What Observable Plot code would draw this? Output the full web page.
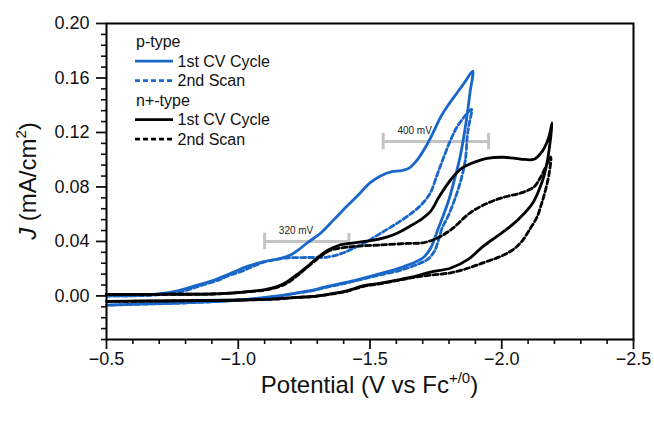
<!DOCTYPE html>
<html><head><meta charset="utf-8">
<script src="https://cdn.jsdelivr.net/npm/d3@7"></script>
<script src="https://cdn.jsdelivr.net/npm/@observablehq/plot@0.6"></script>
<style>body{margin:0;background:#fff}</style>
</head><body><div id="chart"></div>
<script>
// ---- data: [potential V vs Fc+/0, J mA/cm2], scan order (forward then return)
const pFirst = [
  [-0.50,0.000],[-0.60,0.0003],[-0.68,0.0012],[-0.75,0.003],[-0.82,0.0065],[-0.90,0.011],
  [-0.976,0.017],[-1.04,0.022],[-1.097,0.0252],[-1.15,0.027],[-1.198,0.030],[-1.23,0.034],
  [-1.262,0.039],[-1.312,0.046],[-1.363,0.056],[-1.413,0.066],[-1.45,0.073],[-1.50,0.083],
  [-1.54,0.088],[-1.58,0.091],[-1.62,0.092],[-1.65,0.094],[-1.68,0.100],[-1.71,0.109],
  [-1.74,0.120],[-1.77,0.132],[-1.80,0.141],[-1.83,0.149],[-1.86,0.157],[-1.89,0.165],
  [-1.88,0.150],[-1.865,0.128],[-1.843,0.103],[-1.82,0.085],[-1.80,0.071],[-1.78,0.060],
  [-1.76,0.050],[-1.745,0.042],[-1.73,0.035],[-1.707,0.029],[-1.674,0.025],[-1.621,0.021],
  [-1.541,0.0165],[-1.476,0.013],[-1.40,0.0095],[-1.328,0.0065],[-1.287,0.0044],[-1.222,0.0022],
  [-1.15,0.000],[-1.097,-0.0012],[-1.009,-0.003],[-0.876,-0.0044],[-0.743,-0.0054],[-0.61,-0.0061],[-0.50,-0.0068]
];
const pSecond = [
  [-0.50,0.000],[-0.65,0.0003],[-0.73,0.0015],[-0.80,0.004],[-0.857,0.0075],[-0.93,0.012],
  [-0.97,0.0154],[-1.009,0.0178],[-1.06,0.022],[-1.10,0.025],[-1.15,0.027],[-1.19,0.028],
  [-1.26,0.0282],[-1.338,0.0285],[-1.39,0.031],[-1.426,0.034],[-1.48,0.039],[-1.54,0.046],
  [-1.60,0.053],[-1.666,0.062],[-1.70,0.068],[-1.73,0.076],[-1.755,0.089],[-1.78,0.102],
  [-1.805,0.114],[-1.83,0.124],[-1.856,0.131],[-1.885,0.137],
  [-1.875,0.125],[-1.869,0.117],[-1.862,0.100],[-1.845,0.085],[-1.82,0.070],[-1.795,0.058],
  [-1.774,0.050],[-1.76,0.041],[-1.745,0.033],[-1.72,0.027],[-1.69,0.024],[-1.65,0.021],
  [-1.60,0.018],[-1.54,0.0155],[-1.476,0.0125],[-1.40,0.009],[-1.328,0.006],[-1.287,0.004],
  [-1.222,0.002],[-1.15,-0.0002],[-1.097,-0.0014],[-1.009,-0.003],[-0.876,-0.0045],[-0.743,-0.0055],[-0.61,-0.0062],[-0.50,-0.0068]
];
const nFirst = [
  [-0.50,0.0012],[-0.70,0.0012],[-0.90,0.0014],[-0.97,0.002],[-1.03,0.003],[-1.097,0.0044],
  [-1.15,0.007],[-1.186,0.0105],[-1.225,0.016],[-1.262,0.0215],[-1.30,0.028],[-1.34,0.0335],
  [-1.38,0.037],[-1.44,0.039],[-1.514,0.041],[-1.56,0.043],[-1.603,0.046],[-1.65,0.051],
  [-1.70,0.057],[-1.73,0.062],[-1.76,0.072],[-1.79,0.081],[-1.818,0.088],[-1.85,0.094],
  [-1.881,0.097],[-1.945,0.101],[-2.008,0.1018],[-2.071,0.1005],[-2.122,0.1003],[-2.153,0.106],
  [-2.172,0.113],[-2.182,0.119],[-2.191,0.127],
  [-2.183,0.112],[-2.172,0.098],[-2.16,0.088],[-2.146,0.080],[-2.12,0.069],[-2.086,0.0607],
  [-2.033,0.051],[-1.98,0.0435],[-1.927,0.036],[-1.874,0.027],[-1.807,0.0205],[-1.73,0.0175],
  [-1.674,0.0145],[-1.608,0.0118],[-1.541,0.0094],[-1.476,0.0075],[-1.408,0.0035],[-1.342,0.0012],
  [-1.275,-0.0005],[-1.224,-0.001],[-1.142,-0.0022],[-1.009,-0.003],[-0.80,-0.0035],[-0.50,-0.0040]
];
const nSecond = [
  [-0.50,0.0012],[-0.70,0.0012],[-0.90,0.0014],[-0.97,0.002],[-1.03,0.003],[-1.097,0.0042],
  [-1.15,0.0065],[-1.186,0.0095],[-1.225,0.015],[-1.262,0.021],[-1.312,0.029],[-1.35,0.0335],
  [-1.40,0.0355],[-1.451,0.0365],[-1.54,0.0374],[-1.641,0.0385],[-1.70,0.039],[-1.75,0.042],
  [-1.81,0.049],[-1.88,0.061],[-1.945,0.068],[-2.008,0.0725],[-2.071,0.0755],[-2.122,0.080],
  [-2.147,0.087],[-2.17,0.096],[-2.186,0.102],
  [-2.18,0.090],[-2.165,0.077],[-2.15,0.067],[-2.134,0.058],[-2.109,0.0497],[-2.08,0.041],
  [-2.05,0.035],[-2.007,0.030],[-1.94,0.025],[-1.874,0.0205],[-1.807,0.017],[-1.741,0.0155],
  [-1.674,0.0138],[-1.608,0.0115],[-1.541,0.009],[-1.476,0.007],[-1.408,0.0032],[-1.342,0.001],
  [-1.275,-0.0006],[-1.224,-0.0011],[-1.142,-0.0023],[-1.009,-0.0031],[-0.80,-0.0036],[-0.50,-0.0041]
];
const seriesNames = ["p-type 1st CV Cycle","p-type 2nd Scan","n+-type 1st CV Cycle","n+-type 2nd Scan"];
const annotations = [
  {label: "320 mV", from: -1.10, to: -1.42, j: 0.040},
  {label: "400 mV", from: -1.55, to: -1.95, j: 0.1133}
];
const xMajor = [-0.5,-1.0,-1.5,-2.0,-2.5];
const yMajor = [0.00,0.04,0.08,0.12,0.16,0.20];
const xTitle = ["Potential (V vs Fc", "+/0", ")"];
const yTitle = ["J", " (mA/cm", "2", ")"];
const legendGroups = [
  {head: "p-type", items: ["1st CV Cycle","2nd Scan"]},
  {head: "n+-type", items: ["1st CV Cycle","2nd Scan"]}
];

// ---- styles
const BLUE = "#1a67c8", BLACK = "#000000";
const DASH = "5,3";
const styleFor = {
  "p-type 1st CV Cycle": {stroke: BLUE, dash: null},
  "p-type 2nd Scan": {stroke: BLUE, dash: DASH},
  "n+-type 1st CV Cycle": {stroke: BLACK, dash: null},
  "n+-type 2nd Scan": {stroke: BLACK, dash: DASH}
};
const FONT = "'Liberation Sans', Arial, Helvetica, sans-serif";
const W = 654, H = 421, ML = 106, MR = 21, MT = 23, MB = 82;

const raw = [pFirst, pSecond, nFirst, nSecond];
const rows = raw.map((pts, i) => pts.map(([v, j]) => ({v, j, s: seriesNames[i]})));
const drawOrder = [1, 0, 3, 2];

const xMinor = d3.range(5, 26).map(i => -i / 10).filter(v => !xMajor.some(m => Math.abs(m - v) < 1e-9));
const yMinor = d3.range(-4, 26).map(i => i * 0.008).filter(v => !yMajor.some(m => Math.abs(m - v) < 1e-9));

const lineMarks = drawOrder.map(i => {
  const st = styleFor[seriesNames[i]];
  const opts = {x: "v", y: "j", stroke: st.stroke, strokeWidth: 2.8, curve: "catmull-rom", strokeLinejoin: "round"};
  if (st.dash) opts.strokeDasharray = st.dash;
  return Plot.line(rows[i], opts);
});

const chart = Plot.plot({
  width: W, height: H,
  marginLeft: ML, marginRight: MR, marginTop: MT, marginBottom: MB,
  x: {domain: [-0.5, -2.5]},
  y: {domain: [-0.032, 0.20]},
  style: {fontFamily: FONT, color: "#111", background: "#fff", overflow: "visible"},
  marks: [
    Plot.link(annotations, {x1: "from", x2: "to", y1: "j", y2: "j", stroke: "#c4c4c4", strokeWidth: 3}),
    Plot.ruleX(annotations, {x: "from", y1: d => d.j - 0.006, y2: d => d.j + 0.006, stroke: "#c4c4c4", strokeWidth: 3}),
    Plot.ruleX(annotations, {x: "to", y1: d => d.j - 0.006, y2: d => d.j + 0.006, stroke: "#c4c4c4", strokeWidth: 3}),
    Plot.text(annotations, {x: d => d.from - 0.054, y: "j", text: "label", textAnchor: "start", dy: -11, fontSize: 10, fill: "#222"}),
    ...lineMarks,
    Plot.axisX({ticks: xMinor, tickSize: 5, tickFormat: () => "", label: null, strokeWidth: 1.6}),
    Plot.axisX({ticks: xMajor, tickSize: 10, tickPadding: 3, tickFormat: d3.format(".1f"), fontSize: 18, label: null, strokeWidth: 1.8}),
    Plot.axisY({ticks: yMinor, tickSize: 5, tickFormat: () => "", label: null, strokeWidth: 1.6}),
    Plot.axisY({ticks: yMajor, tickSize: 10, tickPadding: 7, tickFormat: d3.format(".2f"), fontSize: 18, label: null, strokeWidth: 1.8}),
    Plot.frame({stroke: "#000", strokeWidth: 2})
  ]
});
document.getElementById("chart").appendChild(chart);

// ---- axis titles with superscripts
const svg = d3.select(chart);
const cx = ML + (W - ML - MR) / 2;
const xt = svg.append("text").attr("x", cx).attr("y", 393).attr("text-anchor", "middle")
  .attr("font-family", FONT).attr("font-size", 24).attr("fill", "#111");
xt.append("tspan").text(xTitle[0]);
xt.append("tspan").attr("font-size", 15).attr("dy", -10).text(xTitle[1]);
xt.append("tspan").attr("dy", 10).text(xTitle[2]);

const cy = MT + (H - MT - MB) / 2;
const yt = svg.append("text").attr("transform", `translate(36,${cy}) rotate(-90)`).attr("text-anchor", "middle")
  .attr("font-family", FONT).attr("font-size", 24).attr("fill", "#111");
yt.append("tspan").attr("font-style", "italic").text(yTitle[0]);
yt.append("tspan").text(yTitle[1]);
yt.append("tspan").attr("font-size", 15).attr("dy", -10).text(yTitle[2]);
yt.append("tspan").attr("dy", 10).text(yTitle[3]);

// ---- legend
const lg = svg.append("g").attr("font-family", FONT).attr("font-size", 16).attr("fill", "#111")
  .attr("text-anchor", "start");
let row = 0;
const rowY = r => 41.7 + r * 19.5;
legendGroups.forEach(g => {
  lg.append("text").attr("x", 136).attr("y", rowY(row)).attr("dy", "0.35em").text(g.head);
  row++;
  g.items.forEach(it => {
    const st = styleFor[g.head + " " + it];
    const ln = lg.append("line").attr("x1", 135).attr("x2", 173).attr("y1", rowY(row)).attr("y2", rowY(row))
      .attr("stroke", st.stroke).attr("stroke-width", 2.8);
    if (st.dash) ln.attr("stroke-dasharray", st.dash);
    lg.append("text").attr("x", 177.5).attr("y", rowY(row)).attr("dy", "0.35em").text(it);
    row++;
  });
});
</script></body></html>
